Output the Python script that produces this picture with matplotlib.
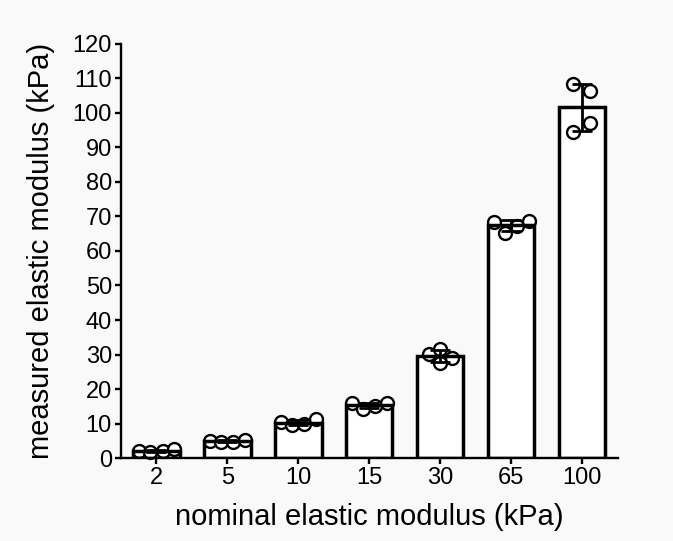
import numpy as np
import matplotlib
matplotlib.use("Agg")
import matplotlib.pyplot as plt

plt.rcParams['font.family'] = ['Liberation Sans', 'DejaVu Sans']

# nominal stiffness groups (kPa)
categories = ["2", "5", "10", "15", "30", "65", "100"]

# measured values, 4 gels per group (kPa)
g2 = [2.1, 1.8, 2.1, 2.5]
g5 = [4.9, 4.5, 4.7, 5.2]
g10 = [10.3, 9.6, 9.8, 11.3]
g15 = [15.9, 14.2, 15.0, 15.9]
g30 = [30.1, 31.6, 27.4, 28.9]
g65 = [68.5, 65.3, 67.2, 68.7]
g100 = [108.4, 106.5, 97.0, 94.6]
groups = [g2, g5, g10, g15, g30, g65, g100]

# horizontal spread of the dots inside each bar (layout only)
spread4 = [-0.25, -0.085, 0.085, 0.25]
dot_offsets = [spread4, spread4, spread4, spread4,
               [-0.165, 0.0, 0.0, 0.17], spread4,
               [-0.13, 0.11, 0.11, -0.13]]

means = [np.mean(g) for g in groups]
sds = [np.std(g, ddof=1) for g in groups]
x = np.arange(len(categories))

bg = "#f9f9f9"
fig = plt.figure(figsize=(6.73, 5.41), dpi=100, facecolor=bg)
ax = fig.add_axes([0.1798, 0.1534, 0.918 - 0.1798, 0.9187 - 0.1534])
ax.set_facecolor(bg)

bw = 0.65
ax.bar(x, means, width=bw, color="white", edgecolor="none", zorder=1)

for i, g in enumerate(groups):
    ax.plot(x[i] + np.array(dot_offsets[i]), g, "o", ms=9.3, mfc="white",
            mec="black", mew=1.7, zorder=2, clip_on=False)

ax.bar(x, means, width=bw, fill=False, edgecolor="black", linewidth=2.5, zorder=3)
ax.errorbar(x, means, yerr=sds, fmt="none", ecolor="black", elinewidth=2.0,
            capsize=7, capthick=2.0, zorder=4)

ax.set_xlim(-0.5, len(categories) - 0.5)
ax.set_ylim(0, 120)
ax.set_yticks(np.arange(0, 121, 10))
ax.set_xticks(x)
ax.set_xticklabels(categories)

for s in ["top", "right"]:
    ax.spines[s].set_visible(False)
for s in ["left", "bottom"]:
    ax.spines[s].set_linewidth(1.7)

ax.tick_params(axis="both", length=4.5, width=1.7, labelsize=17, pad=2)
ax.set_xlabel("nominal elastic modulus (kPa)", fontsize=21, labelpad=10)
ax.set_ylabel("measured elastic modulus (kPa)", fontsize=21, labelpad=13)

fig.savefig("out.png", dpi=100, facecolor=bg)
